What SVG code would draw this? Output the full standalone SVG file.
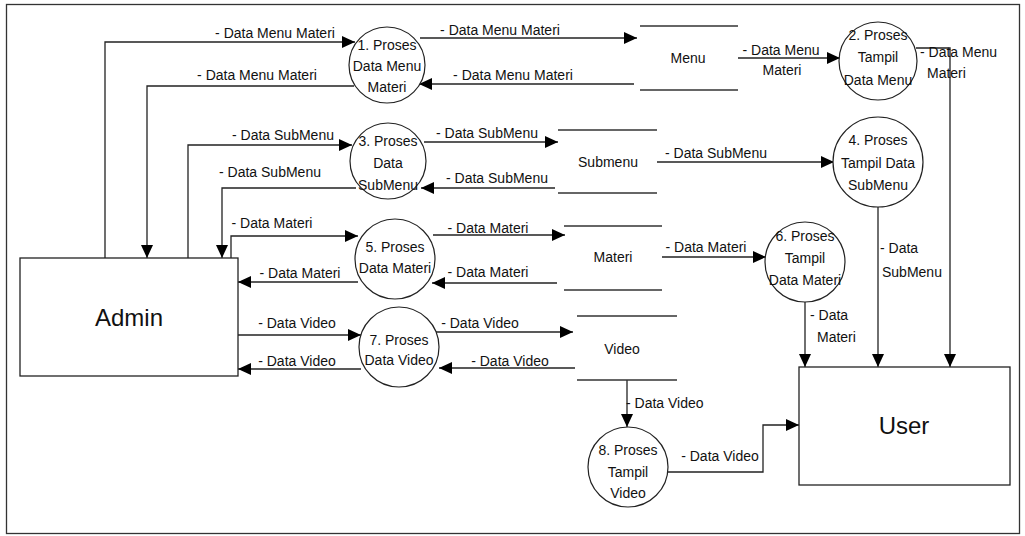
<svg xmlns="http://www.w3.org/2000/svg" width="1025" height="536" viewBox="0 0 1025 536">
  <style>
    text { font-family: "Liberation Sans", Arial, sans-serif; font-size: 14px; fill: #111; }
    .big { font-size: 24px; }
    .c { text-anchor: middle; }
    .proc { fill: #fff; stroke: #222; stroke-width: 1.2; }
    .ent { fill: #fff; stroke: #222; stroke-width: 1.3; }
    .store { stroke: #333; stroke-width: 1.3; fill: none; }
    .flow { fill: none; stroke: #222; stroke-width: 1.3; marker-end: url(#arrow); }
    .flow0 { fill: none; stroke: #222; stroke-width: 1.3; }
  </style>
  <defs>
    <marker id="arrow" markerUnits="userSpaceOnUse" markerWidth="14" markerHeight="12" refX="13" refY="6" orient="auto">
      <path d="M0,0 L13,6 L0,12 z" fill="#000"/>
    </marker>
  </defs>

  <rect x="0" y="0" width="1025" height="536" fill="#fff"/>
  <!-- page frame -->
  <rect x="6.5" y="4.5" width="1013" height="529" fill="none" stroke="#333" stroke-width="1.3"/>

  <!-- data flows -->
  <g id="connectors">
    <path class="flow" d="M105,258 V42 H355"/>
    <path class="flow" d="M354,86 H147 V258"/>
    <path class="flow" d="M420,38 H637"/>
    <path class="flow" d="M634,84 H419"/>
    <path class="flow" d="M738,58 H840"/>
    <path class="flow" d="M916,48 H950 V367"/>

    <path class="flow" d="M188,258 V145 H352"/>
    <path class="flow" d="M356,188 H222 V258"/>
    <path class="flow" d="M424,142 H558"/>
    <path class="flow" d="M555,188 H421"/>
    <path class="flow" d="M657,162 H834"/>
    <path class="flow" d="M878,207 V367"/>

    <path class="flow" d="M231,258 V236 H358"/>
    <path class="flow" d="M358,282 H238"/>
    <path class="flow" d="M433,235 H565"/>
    <path class="flow" d="M557,283 H432"/>
    <path class="flow" d="M662,257 H766"/>
    <path class="flow" d="M805,302 V367"/>

    <path class="flow" d="M238,335 H361"/>
    <path class="flow" d="M361,369 H238"/>
    <path class="flow" d="M436,332 H573"/>
    <path class="flow" d="M575,368 H439"/>
    <path class="flow" d="M627,380 V427"/>
    <path class="flow" d="M667,472 H763 V425 H799"/>
  </g>

  <!-- flow labels -->
  <g id="flow-labels">
    <text class="c" x="275" y="38">- Data Menu Materi</text>
    <text class="c" x="257" y="80">- Data Menu Materi</text>
    <text class="c" x="500" y="35">- Data Menu Materi</text>
    <text class="c" x="513" y="80">- Data Menu Materi</text>
    <text class="c" x="781" y="55">- Data Menu</text>
    <text class="c" x="782" y="75">Materi</text>
    <text x="920" y="57">- Data Menu</text>
    <text x="927" y="78">Materi</text>

    <text class="c" x="283" y="140">- Data SubMenu</text>
    <text class="c" x="270" y="177">- Data SubMenu</text>
    <text class="c" x="487" y="138">- Data SubMenu</text>
    <text class="c" x="497" y="183">- Data SubMenu</text>
    <text class="c" x="716" y="158">- Data SubMenu</text>
    <text x="880" y="253">- Data</text>
    <text x="882" y="277">SubMenu</text>

    <text class="c" x="272" y="228">- Data Materi</text>
    <text class="c" x="300" y="278">- Data Materi</text>
    <text class="c" x="488" y="233">- Data Materi</text>
    <text class="c" x="488" y="277">- Data Materi</text>
    <text class="c" x="706" y="252">- Data Materi</text>
    <text x="810" y="320">- Data</text>
    <text x="817" y="342">Materi</text>

    <text class="c" x="297" y="328">- Data Video</text>
    <text class="c" x="297" y="366">- Data Video</text>
    <text class="c" x="480" y="328">- Data Video</text>
    <text class="c" x="510" y="366">- Data Video</text>
    <text x="626" y="408">- Data Video</text>
    <text class="c" x="720" y="461">- Data Video</text>
  </g>

  <!-- external entities -->
  <g id="admin">
    <rect class="ent" x="20" y="258" width="218" height="118"/>
    <text class="c big" x="129" y="326">Admin</text>
  </g>
  <g id="user">
    <rect class="ent" x="799" y="367" width="211" height="118"/>
    <text class="c big" x="904" y="434">User</text>
  </g>

  <!-- data stores -->
  <g id="store-menu">
    <line class="store" x1="640" y1="26" x2="738" y2="26"/>
    <line class="store" x1="640" y1="90" x2="738" y2="90"/>
    <text class="c" x="688" y="63">Menu</text>
  </g>
  <g id="store-submenu">
    <line class="store" x1="558" y1="130" x2="657" y2="130"/>
    <line class="store" x1="558" y1="193" x2="657" y2="193"/>
    <text class="c" x="608" y="167">Submenu</text>
  </g>
  <g id="store-materi">
    <line class="store" x1="564" y1="226" x2="662" y2="226"/>
    <line class="store" x1="564" y1="290" x2="662" y2="290"/>
    <text class="c" x="613" y="262">Materi</text>
  </g>
  <g id="store-video">
    <line class="store" x1="577" y1="316" x2="677" y2="316"/>
    <line class="store" x1="577" y1="380" x2="677" y2="380"/>
    <text class="c" x="622" y="354">Video</text>
  </g>

  <!-- processes -->
  <g id="p1">
    <circle class="proc" cx="387" cy="65" r="38"/>
    <text class="c" x="387" y="50">1. Proses</text>
    <text class="c" x="387" y="71">Data Menu</text>
    <text class="c" x="387" y="92">Materi</text>
  </g>
  <g id="p2">
    <circle class="proc" cx="878" cy="61" r="39"/>
    <text class="c" x="878" y="40">2. Proses</text>
    <text class="c" x="878" y="62">Tampil</text>
    <text class="c" x="878" y="85">Data Menu</text>
  </g>
  <g id="p3">
    <circle class="proc" cx="388" cy="161" r="38"/>
    <text class="c" x="388" y="146">3. Proses</text>
    <text class="c" x="388" y="168">Data</text>
    <text class="c" x="388" y="190">SubMenu</text>
  </g>
  <g id="p4">
    <circle class="proc" cx="878" cy="162" r="45"/>
    <text class="c" x="878" y="145">4. Proses</text>
    <text class="c" x="878" y="168">Tampil Data</text>
    <text class="c" x="878" y="190">SubMenu</text>
  </g>
  <g id="p5">
    <circle class="proc" cx="395" cy="259" r="40"/>
    <text class="c" x="395" y="252">5. Proses</text>
    <text class="c" x="395" y="273">Data Materi</text>
  </g>
  <g id="p6">
    <circle class="proc" cx="805" cy="262" r="40"/>
    <text class="c" x="805" y="241">6. Proses</text>
    <text class="c" x="805" y="263">Tampil</text>
    <text class="c" x="805" y="285">Data Materi</text>
  </g>
  <g id="p7">
    <circle class="proc" cx="399" cy="347" r="40"/>
    <text class="c" x="399" y="345">7. Proses</text>
    <text class="c" x="399" y="365">Data Video</text>
  </g>
  <g id="p8">
    <circle class="proc" cx="628" cy="467" r="40"/>
    <text class="c" x="628" y="455">8. Proses</text>
    <text class="c" x="628" y="477">Tampil</text>
    <text class="c" x="628" y="498">Video</text>
  </g>
</svg>
